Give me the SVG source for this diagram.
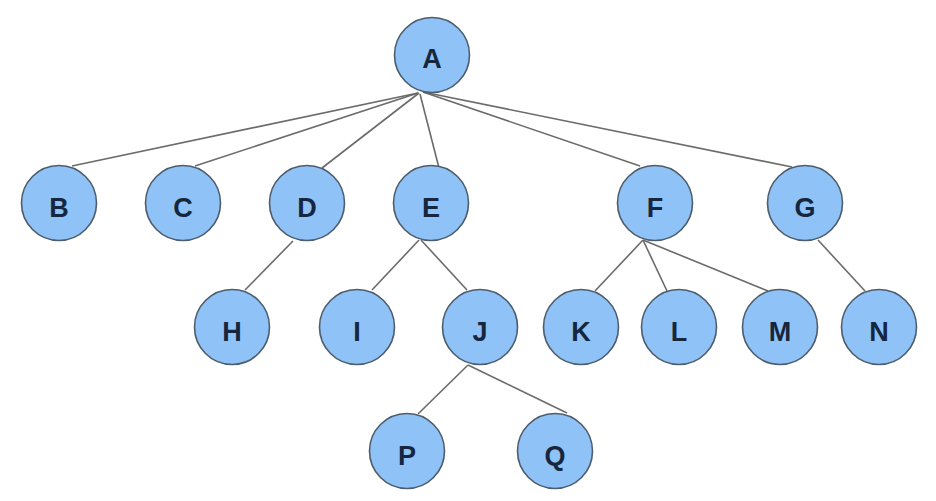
<svg xmlns="http://www.w3.org/2000/svg" width="936" height="501" viewBox="0 0 936 501">
<style>
.n circle{fill:#8fc3f7;stroke:#4d5d6c;stroke-width:1.6}
.n text{font-family:"Liberation Sans",Arial,sans-serif;font-weight:bold;font-size:27px;fill:#16263e;text-anchor:middle}
.e line{stroke:#6b6b6b;stroke-width:1.6}
</style>
<rect width="936" height="501" fill="#ffffff"/>
<g id="edges" class="e">
<line x1="418" y1="93" x2="72" y2="166"/>
<line x1="418" y1="93" x2="195" y2="166"/>
<line x1="419" y1="93" x2="322" y2="168"/>
<line x1="420" y1="94" x2="439" y2="168"/>
<line x1="423" y1="92" x2="640" y2="166"/>
<line x1="423" y1="92" x2="792" y2="167"/>
<line x1="293" y1="241" x2="245" y2="290"/>
<line x1="419" y1="240" x2="372" y2="290"/>
<line x1="421" y1="240" x2="467" y2="290"/>
<line x1="643" y1="240" x2="595" y2="291"/>
<line x1="643" y1="240" x2="667" y2="291"/>
<line x1="643" y1="240" x2="768" y2="291"/>
<line x1="818" y1="240" x2="865" y2="291"/>
<line x1="468" y1="365" x2="418" y2="414"/>
<line x1="468" y1="365" x2="567" y2="413"/>
</g>
<g id="A" class="n"><circle cx="432" cy="55" r="37.5"/><text x="432" y="68">A</text></g>
<g id="B" class="n"><circle cx="59" cy="203" r="37.5"/><text x="59" y="217">B</text></g>
<g id="C" class="n"><circle cx="183" cy="203" r="37.5"/><text x="183" y="217">C</text></g>
<g id="D" class="n"><circle cx="307" cy="203" r="37.5"/><text x="307" y="217">D</text></g>
<g id="E" class="n"><circle cx="431" cy="203" r="37.5"/><text x="431" y="217">E</text></g>
<g id="F" class="n"><circle cx="655" cy="203" r="37.5"/><text x="655" y="217">F</text></g>
<g id="G" class="n"><circle cx="805" cy="203" r="37.5"/><text x="805" y="217">G</text></g>
<g id="H" class="n"><circle cx="232" cy="327" r="37.5"/><text x="232" y="341">H</text></g>
<g id="I" class="n"><circle cx="357" cy="327" r="37.5"/><text x="357" y="341">I</text></g>
<g id="J" class="n"><circle cx="480" cy="327" r="37.5"/><text x="480" y="341">J</text></g>
<g id="K" class="n"><circle cx="581" cy="327" r="37.5"/><text x="581" y="341">K</text></g>
<g id="L" class="n"><circle cx="679" cy="327" r="37.5"/><text x="679" y="341">L</text></g>
<g id="M" class="n"><circle cx="780" cy="327" r="37.5"/><text x="780" y="341">M</text></g>
<g id="N" class="n"><circle cx="879" cy="327" r="37.5"/><text x="879" y="341">N</text></g>
<g id="P" class="n"><circle cx="407" cy="451" r="37.5"/><text x="407" y="465">P</text></g>
<g id="Q" class="n"><circle cx="555" cy="451" r="37.5"/><text x="555" y="465">Q</text></g>
</svg>
